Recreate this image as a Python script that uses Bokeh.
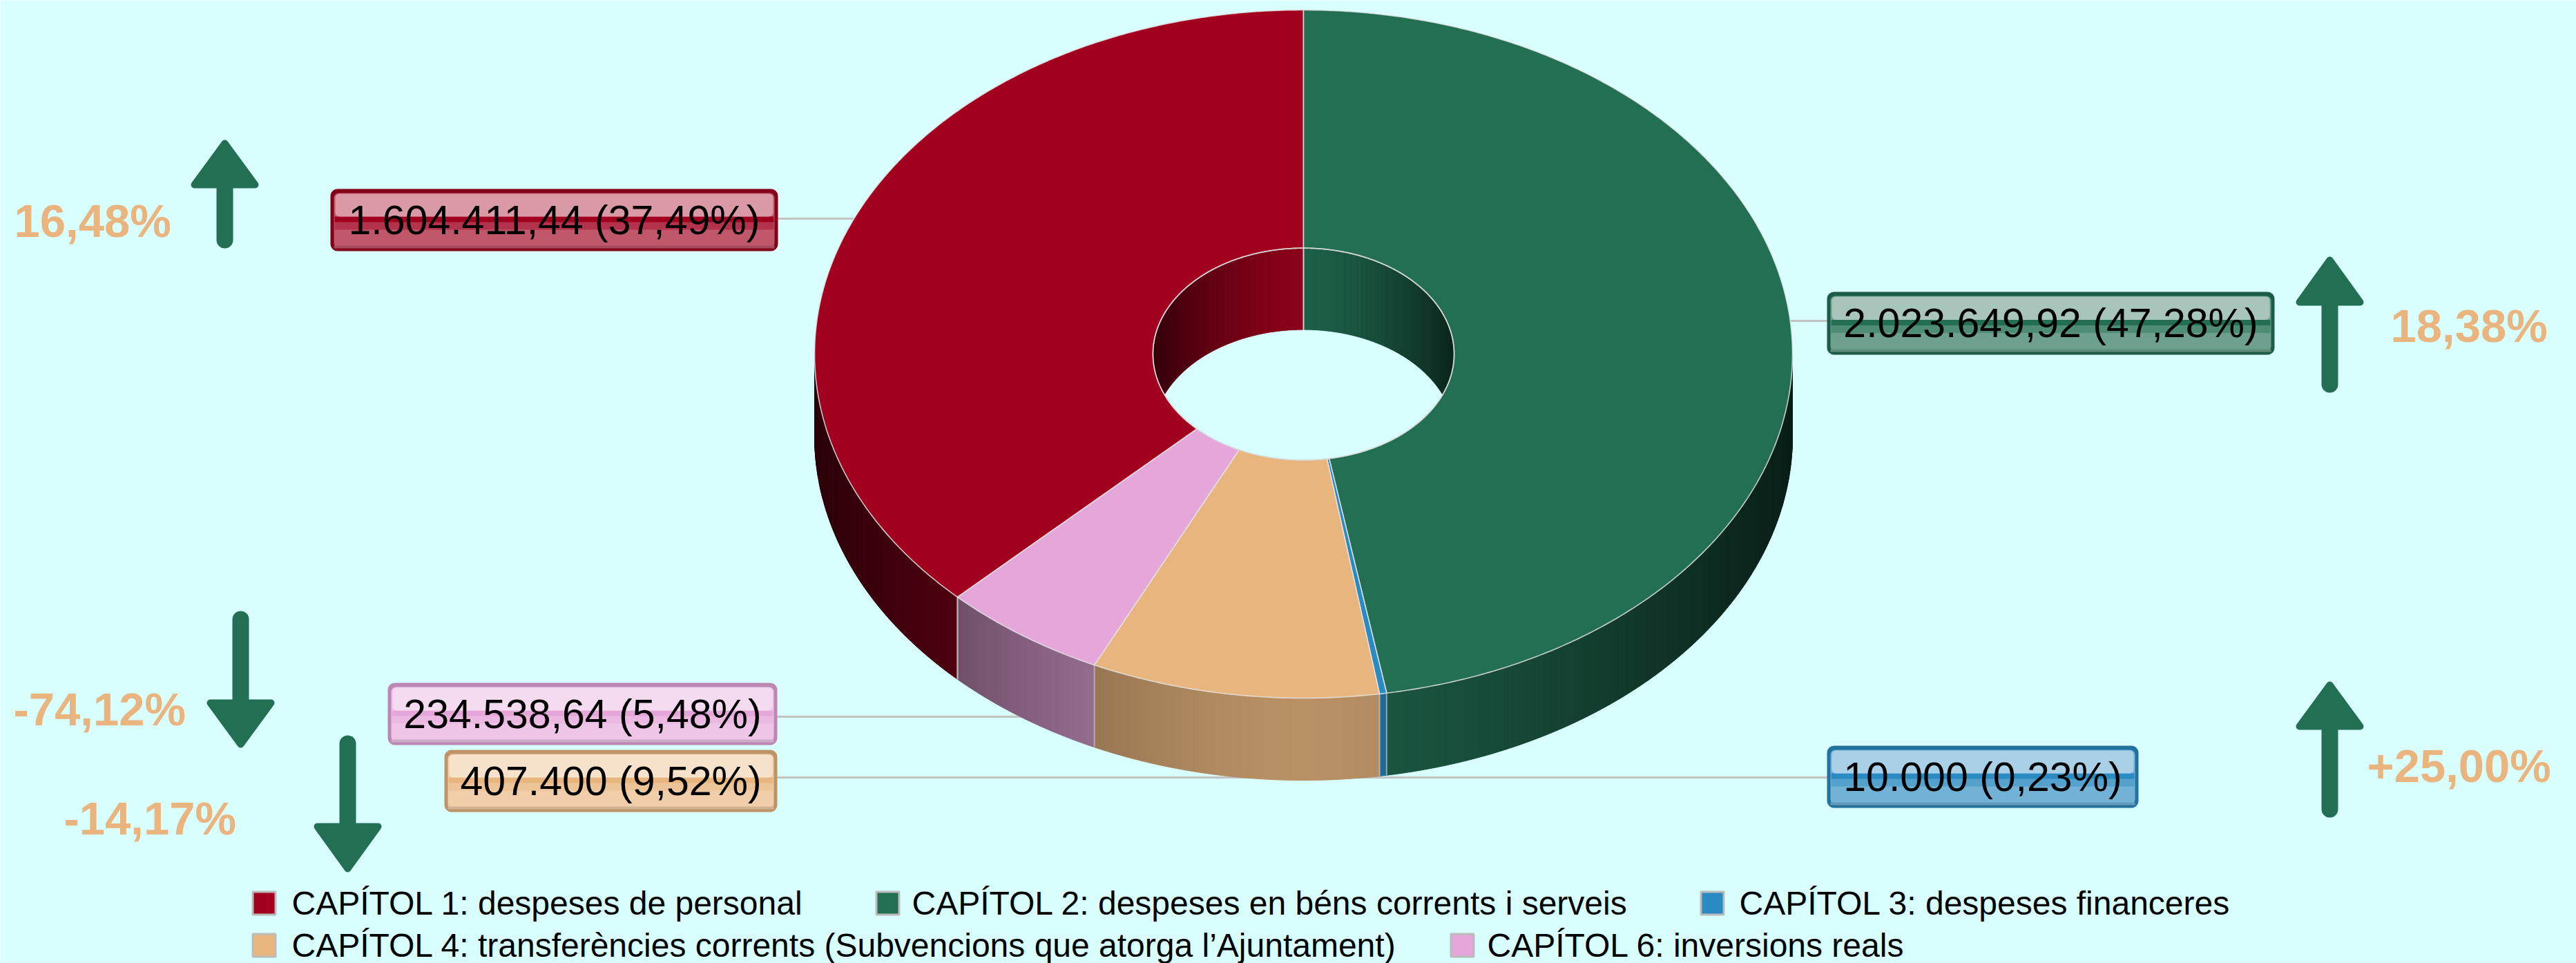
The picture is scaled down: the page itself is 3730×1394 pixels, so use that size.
import numpy as np
from bokeh.plotting import figure
from bokeh.models import Range1d
from bokeh.embed import file_html
from bokeh.resources import INLINE
from bokeh.core.properties import value

# ---------------- data ----------------
categories = [
    "CAPÍTOL 1: despeses de personal",
    "CAPÍTOL 2: despeses en béns corrents i serveis",
    "CAPÍTOL 3: despeses financeres",
    "CAPÍTOL 4: transferències corrents (Subvencions que atorga l’Ajuntament)",
    "CAPÍTOL 6: inversions reals",
]
amounts = [1604411.44, 2023649.92, 10000.00, 407400.00, 234538.64]
change_pct = [16.48, 18.38, 25.00, -14.17, -74.12]
change_labels = ["16,48%", "18,38%", "+25,00%", "-14,17%", "-74,12%"]
colors = ["#A1001F", "#226F54", "#2A8AC2", "#E8B57E", "#E5A6DA"]

# ---------------- layout (pixels) ----------------
W, H = 3730, 1394
BG = "#D8FEFE"
CX, CY, RX, RY, DEPTH, KIN = 1887, 512, 708, 498, 119, 0.308
label_boxes = [(478, 1126, 273, 363), (2645, 3293, 422, 513), (2645, 3096, 1079, 1169),
               (643, 1125, 1085, 1175), (561, 1125, 988, 1078)]
connectors = [((1126, 1300), 316), ((2560, 2645), 464), ((2000, 2645), 1125),
              ((1125, 2000), 1125), ((1125, 1480), 1037)]
arrow_pos = [(325, 201, 272, 358), (3373, 370, 442, 567), (3373, 985, 1056, 1182),
             (503, 1263, 1191, 1065), (348, 1083, 1012, 885)]  # x, tip, head base, tail
change_text_pos = [(20, 319), (3461, 471), (3427, 1108), (92, 1184), (19, 1026)]
legend_pos = [(382, 422, 1307), (1285, 1320, 1307), (2479, 2518, 1307),
              (382, 422, 1368), (2117, 2153, 1368)]


def hex2rgb(c):
    c = c.lstrip("#")
    return np.array([int(c[i:i + 2], 16) for i in (0, 2, 4)], dtype=float)


def rgb2hex(v):
    v = np.clip(np.round(v), 0, 255).astype(int)
    return "#%02x%02x%02x" % tuple(v)


def shade(c, f):
    return rgb2hex(hex2rgb(c) * f)


def tint(c, t):
    return rgb2hex(hex2rgb(c) * (1 - t) + 255 * t)


def fmt_amount(v):
    s = f"{v:,.2f}".replace(",", "X").replace(".", ",").replace("X", ".")
    return s[:-3] if s.endswith(",00") else s


total = sum(amounts)
frac = np.array(amounts) / total
value_labels = [f"{fmt_amount(a)} ({(f'{100 * f:.2f}').replace('.', ',')}%)" for a, f in zip(amounts, frac)]

p = figure(width=W, height=H, x_range=Range1d(0, W), y_range=Range1d(H, 0),
           output_backend="svg", toolbar_location=None, min_border=0,
           x_axis_type=None, y_axis_type=None,
           background_fill_color=BG, border_fill_color=BG, outline_line_color=None)
p.xgrid.visible = False
p.ygrid.visible = False

# connector lines
for (xa, xb), yy in connectors:
    p.line([xa, xb], [yy, yy], line_color="#C2C2C2", line_width=3)

# ---------------- 3D donut ----------------
start = 90 + frac[0] * 360
bounds = start - 360 * np.concatenate([[0], np.cumsum(frac)])


def ex(t, r=1.0):
    return CX + RX * r * np.cos(np.radians(t))


def ey(t, r=1.0, dz=0.0):
    return CY - RY * r * np.sin(np.radians(t)) + dz


side_xs, side_ys, side_cs = [], [], []
wall_xs, wall_ys, wall_cs = [], [], []
for i, c in enumerate(colors):
    a0, a1 = bounds[i + 1], bounds[i]
    ts = np.append(np.arange(a0, a1, 0.5), a1)
    for t1, t2 in zip(ts[:-1], ts[1:]):
        mid = 0.5 * (t1 + t2)
        s = np.sin(np.radians(mid))
        if s < 0:
            u = abs(ex(mid) - CX) / RX
            f = 0.80 - 0.53 * u ** 1.5
            side_xs.append([ex(t1), ex(t2), ex(t2), ex(t1)])
            side_ys.append([ey(t1), ey(t2), ey(t2, dz=DEPTH), ey(t1, dz=DEPTH)])
            side_cs.append(shade(c, f))
        elif s > 0:
            u = abs(ex(mid, KIN) - CX) / (RX * KIN)
            f = 0.86 - 0.52 * u ** 1.5
            wall_xs.append([ex(t1, KIN), ex(t2, KIN), ex(t2, KIN), ex(t1, KIN)])
            wall_ys.append([ey(t1, KIN), ey(t2, KIN), ey(t2, KIN, DEPTH), ey(t1, KIN, DEPTH)])
            wall_cs.append(shade(c, f))

p.patches(side_xs, side_ys, fill_color=side_cs, line_color=side_cs, line_width=1)
p.patches(wall_xs, wall_ys, fill_color=wall_cs, line_color=wall_cs, line_width=1)

# light edges on the side at slice boundaries
bxs, bys = [], []
for b in bounds:
    if np.sin(np.radians(b)) < -0.02:
        bxs.append([ex(b), ex(b)])
        bys.append([ey(b), ey(b, dz=DEPTH)])
p.multi_line(bxs, bys, line_color="#D0D0D0", line_alpha=0.6, line_width=2)
p.line([ex(90, KIN)] * 2, [ey(90, KIN), ey(90, KIN, DEPTH)], line_color="#D0D0D0", line_width=2)

# top faces
top_xs, top_ys = [], []
for i in range(len(colors)):
    a0, a1 = bounds[i + 1], bounds[i]
    ts = np.linspace(a1, a0, max(int(abs(a1 - a0) * 2), 3))
    top_xs.append(list(ex(ts)) + list(ex(ts[::-1], KIN)))
    top_ys.append(list(ey(ts)) + list(ey(ts[::-1], KIN)))
p.patches(top_xs, top_ys, fill_color=colors, line_color="#E4E4E4", line_alpha=0.85, line_width=1.6)

# see-through hole (intersection of upper and lower inner openings)
rxi, ryi = RX * KIN, RY * KIN
xm = rxi * np.sqrt(1 - (DEPTH / (2 * ryi)) ** 2)
gx = np.linspace(-xm, xm, 200)
hh = ryi * np.sqrt(np.clip(1 - (gx / rxi) ** 2, 0, 1))
hole_x = list(CX + gx) + list(CX + gx[::-1])
hole_y = list(CY + DEPTH - hh) + list((CY + hh)[::-1])
p.patch(hole_x, hole_y, fill_color=BG, line_color=BG, line_width=1)
tt = np.linspace(0, 360, 361)
p.line(ex(tt, KIN), ey(tt, KIN), line_color="#D6D6D6", line_width=1.6, line_alpha=0.9)

# ---------------- value labels ----------------
for (l, r, t, b), c, txt in zip(label_boxes, colors, value_labels):
    mid = 0.5 * (t + b)
    p.quad(left=l, right=r, top=t, bottom=b, fill_color=shade(c, 0.82), line_color=None, border_radius=10)
    p.quad(left=l + 5, right=r - 5, top=t + 6, bottom=b - 5, fill_color=tint(c, 0.34), line_color=None, border_radius=7)
    p.quad(left=l + 6, right=r - 6, top=mid + 2, bottom=mid + 14, fill_color=tint(c, 0.2), line_color=None)
    p.quad(left=l + 6, right=r - 6, top=mid - 5, bottom=mid + 3, fill_color=c, line_color=None)
    p.quad(left=l + 7, right=r - 7, top=t + 7, bottom=mid - 5, fill_color=tint(c, 0.6), line_color=None, border_radius=6)
    p.quad(left=l + 5, right=r - 5, top=b - 8, bottom=b - 4, fill_color=tint(shade(c, 0.8), 0.3), line_color=None)
    p.text(x=[0.5 * (l + r)], y=[mid], text=[txt], text_align="center", text_baseline="middle",
           text_font=value("Liberation Sans"), text_font_size="59px", text_color="#000000")

# ---------------- change arrows + texts ----------------
ARROW = "#236F54"
for (ax, tip, base, tail), ch in zip(arrow_pos, change_pct):
    sgn = 1 if ch >= 0 else -1  # up arrows have tip above (smaller y)
    p.line([ax, ax], [base, tail - sgn * 11], line_color=ARROW, line_width=24, line_cap="round")
    p.patch([ax, ax - 44, ax + 44], [tip + sgn * 6, base - sgn * 5, base - sgn * 5],
            fill_color=ARROW, line_color=ARROW, line_width=10, line_join="round")

for (tx, ty), lab in zip(change_text_pos, change_labels):
    p.text(x=[tx], y=[ty], text=[lab], text_align="left", text_baseline="middle",
           text_font=value("Liberation Sans"), text_font_style="bold", text_font_size="67px",
           text_color="#EAB47E")

# ---------------- legend ----------------
for (sx, tx, sy), c, cat in zip(legend_pos, colors, categories):
    p.rect(x=[sx], y=[sy], width=33, height=33, fill_color=c, line_color="#BBBBBB", line_width=3)
    p.text(x=[tx], y=[sy], text=[cat], text_align="left", text_baseline="middle",
           text_font=value("Liberation Sans"), text_font_size="48px", text_color="#000000")

open("out.html", "w").write(file_html(p, INLINE))
